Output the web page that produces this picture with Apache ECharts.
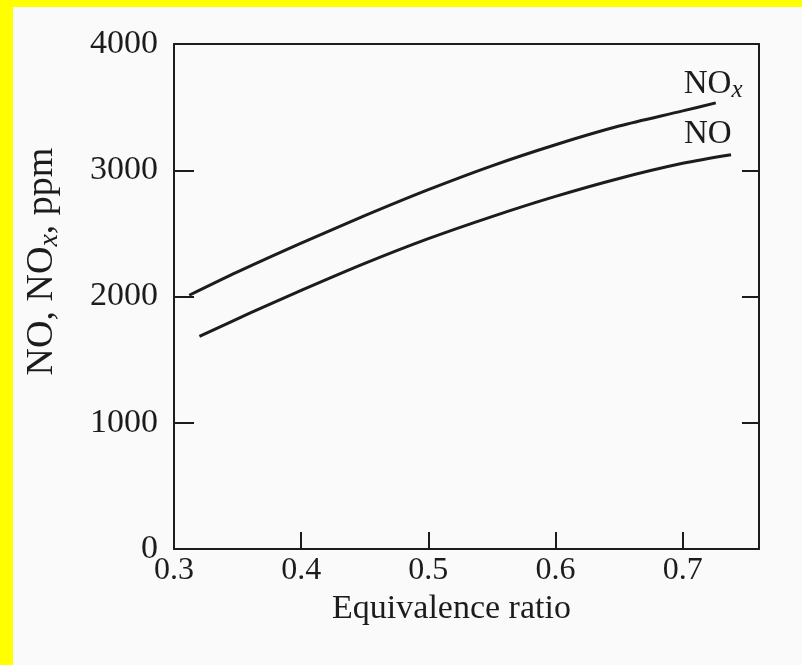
<!DOCTYPE html>
<html>
<head>
<meta charset="utf-8">
<title>NO, NOx vs equivalence ratio</title>
<script src="https://cdn.jsdelivr.net/npm/echarts@6/dist/echarts.min.js"></script>
<style>
    html, body { margin: 0; padding: 0; background: #ffff00; }
    #chart { position: absolute; left: 13px; top: 7px; width: 789px; height: 658px; background: #fafafa; }
</style>
</head>
<body>
<div id="chart"></div>
<script>
// values
var noxPhi = [0.312, 0.35, 0.4, 0.45, 0.5, 0.55, 0.6, 0.65, 0.7, 0.726];
var noxPpm = [2010, 2195, 2423, 2640, 2846, 3035, 3202, 3350, 3470, 3534];
var noPhi = [0.32, 0.36, 0.4, 0.45, 0.5, 0.55, 0.6, 0.65, 0.7, 0.738];
var noPpm = [1684, 1870, 2048, 2262, 2458, 2633, 2793, 2935, 3055, 3123];

var xTicks = [0.3, 0.4, 0.5, 0.6, 0.7];
var yTicks = [0, 1000, 2000, 3000, 4000];

var ink = '#1c1c1c';
var serif = '"Liberation Serif", "Times New Roman", serif';

function pairs(xs, ys) {
    var out = [];
    for (var i = 0; i < xs.length; i++) out.push([xs[i], ys[i]]);
    return out;
}

var chart = echarts.init(document.getElementById('chart'));

var option = {
    animation: false,
    grid: { left: 161, top: 37, right: 43, bottom: 116, outerBoundsMode: 'none' },
    xAxis: [{
        type: 'value',
        min: xTicks[0], max: 0.76, interval: 0.1,
        name: 'Equivalence ratio',
        nameLocation: 'middle',
        nameGap: 38,
        nameTextStyle: { fontFamily: serif, fontSize: 34, color: ink, padding: [0, 30, 0, 0] },
        axisLine: { lineStyle: { color: ink, width: 2 } },
        axisTick: { inside: true, length: 17, lineStyle: { color: ink, width: 2 } },
        axisLabel: {
            margin: 6, fontFamily: serif, fontSize: 32, color: ink,
            showMaxLabel: false,
            formatter: function (v) { return v.toFixed(1); }
        },
        splitLine: { show: false }
    }, {
        type: 'value', position: 'top',
        min: xTicks[0], max: 0.76,
        axisLine: { show: true, onZero: false, lineStyle: { color: ink, width: 2 } },
        axisTick: { show: false },
        axisLabel: { show: false },
        splitLine: { show: false }
    }],
    yAxis: [{
        type: 'value',
        min: yTicks[0], max: yTicks[yTicks.length - 1], interval: 1000,
        name: 'NO, NO{sub|x}, ppm',
        nameLocation: 'middle',
        nameGap: 110,
        nameTextStyle: {
            fontFamily: serif, fontSize: 38, color: ink,
            padding: [0, 0, 0, 70],
            rich: {
                sub: { fontFamily: serif, fontSize: 28, fontStyle: 'italic', color: ink, verticalAlign: 'bottom', lineHeight: 43 }
            }
        },
        axisLine: { show: true, onZero: false, lineStyle: { color: ink, width: 2 } },
        axisTick: { inside: true, length: 20, lineStyle: { color: ink, width: 2 } },
        axisLabel: {
            margin: 16, fontFamily: serif, fontSize: 34, color: ink,
            formatter: function (v) { return String(v); }
        },
        splitLine: { show: false }
    }, {
        type: 'value', position: 'right',
        min: yTicks[0], max: yTicks[yTicks.length - 1], interval: 1000,
        axisLine: { show: true, onZero: false, lineStyle: { color: ink, width: 2 } },
        axisTick: { inside: true, length: 17, lineStyle: { color: ink, width: 2 } },
        axisLabel: { show: false },
        splitLine: { show: false }
    }],
    series: [{
        name: 'NOx',
        type: 'line',
        data: pairs(noxPhi, noxPpm),
        smooth: 0.3,
        showSymbol: false,
        lineStyle: { color: ink, width: 3 },
        endLabel: {
            show: true,
            formatter: 'NO{sub|x}',
            offset: [-40, -19],
            fontFamily: serif, fontSize: 33, color: ink,
            rich: {
                sub: { fontFamily: serif, fontSize: 25, fontStyle: 'italic', color: ink, verticalAlign: 'bottom', lineHeight: 38 }
            }
        }
    }, {
        name: 'NO',
        type: 'line',
        data: pairs(noPhi, noPpm),
        smooth: 0.3,
        showSymbol: false,
        lineStyle: { color: ink, width: 3 },
        endLabel: {
            show: true,
            formatter: 'NO',
            offset: [-55, -20],
            fontFamily: serif, fontSize: 33, color: ink
        }
    }]
};

chart.setOption(option);
</script>
</body>
</html>
